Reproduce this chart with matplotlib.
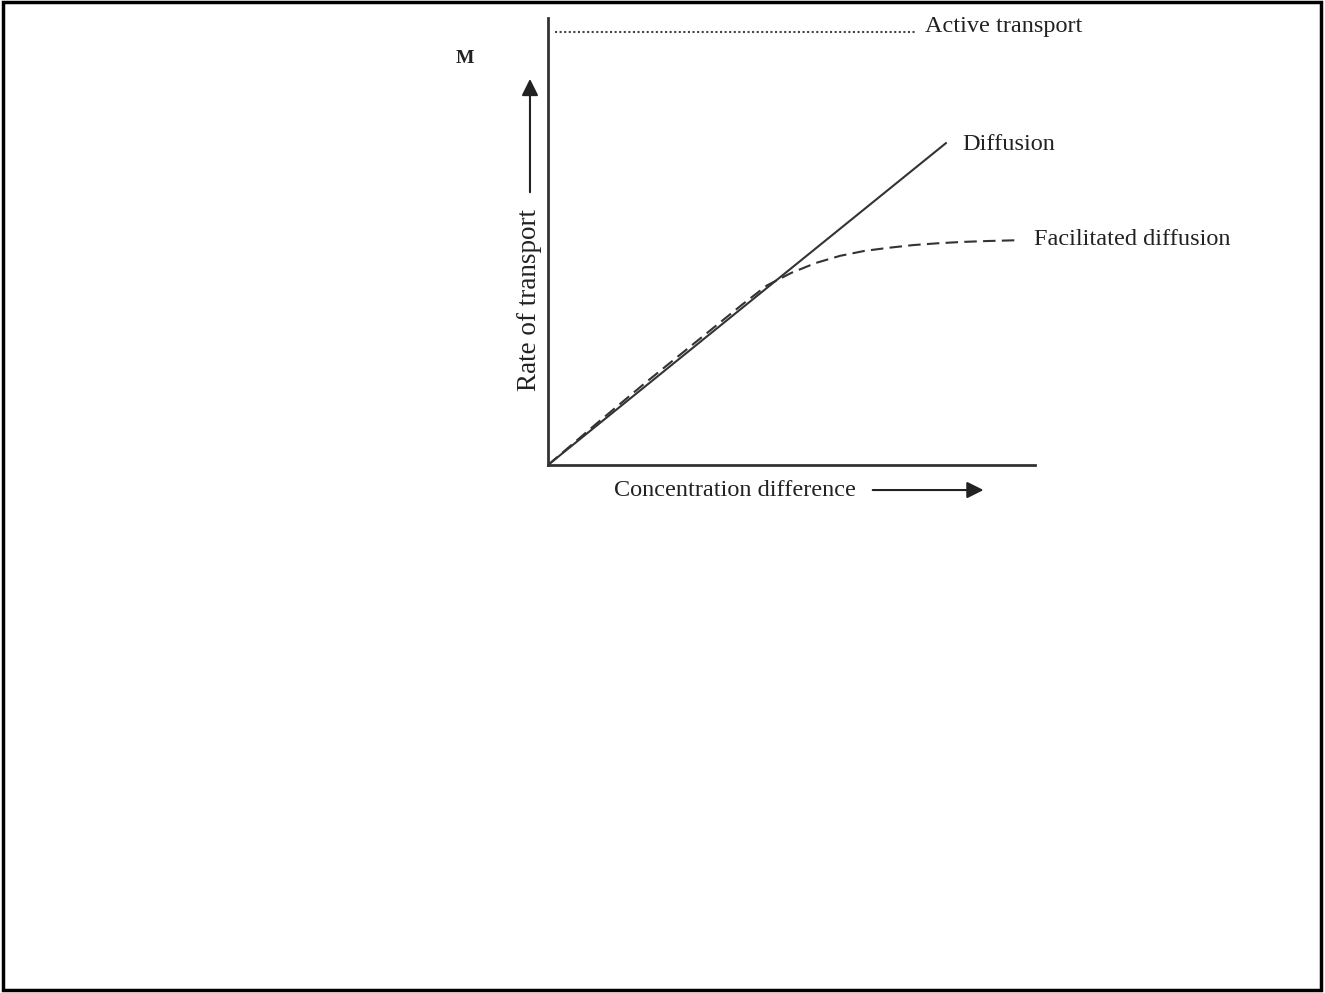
import matplotlib.pyplot as plt
from matplotlib.patches import Rectangle

# data (arbitrary units)
diff_x = [0, 8.17]
diff_y = [0, 7.20]
fac_x = [0, 1, 2, 3, 4, 4.5, 5, 5.5, 6, 6.5, 7, 7.5, 8, 8.5, 9, 9.7]
fac_y = [0, 0.93, 1.84, 2.72, 3.6, 4.02, 4.3, 4.52, 4.68, 4.79, 4.86, 4.92, 4.96, 4.99, 5.01, 5.03]
active_x = [0.14, 7.54]
active_y = [9.69, 9.69]

plt.rcParams['font.family'] = ['Liberation Serif', 'DejaVu Serif']

fig = plt.figure(figsize=(13.25, 9.93), dpi=100)
ax = fig.add_axes([548 / 1325, 1 - 465 / 993, 487 / 1325, 447 / 993])
ax.set_xlim(0, 10)
ax.set_ylim(0, 10)

ax.plot(diff_x, diff_y, color='#333333', linewidth=1.5)
ax.plot(fac_x, fac_y, color='#333333', linewidth=1.5, linestyle=(0, (6, 3)))
ax.plot(active_x, active_y, color='#444444', linewidth=1.5, linestyle=(0, (1, 1.2)))

for s in ['top', 'right']:
    ax.spines[s].set_visible(False)
for s in ['left', 'bottom']:
    ax.spines[s].set_linewidth(2)
    ax.spines[s].set_color('#333333')
ax.set_xticks([])
ax.set_yticks([])

txt = dict(fontsize=17.5, color='#222222', va='center')
ax.text(7.74, 9.8, 'Active transport', ha='left', clip_on=False, **txt)
ax.text(8.5, 7.16, 'Diffusion', ha='left', clip_on=False, **txt)
ax.text(9.98, 5.05, 'Facilitated diffusion', ha='left', clip_on=False, **txt)
ax.text(-1.7, 9.1, 'M', ha='center', fontweight='bold', clip_on=False,
        fontsize=14, color='#222222', va='center')

# axis captions with arrows
ax.text(-0.37, 3.7, 'Rate of transport', rotation=90, ha='center', clip_on=False,
        fontsize=19.5, color='#222222', va='center')
ax.annotate('', xy=(-0.37, 8.7), xytext=(-0.37, 6.04), annotation_clip=False,
            arrowprops=dict(arrowstyle='-|>', color='#222222', lw=1.5, mutation_scale=25))
ax.text(3.84, -0.56, 'Concentration difference', ha='center', clip_on=False, **txt)
ax.annotate('', xy=(9.0, -0.56), xytext=(6.61, -0.56), annotation_clip=False,
            arrowprops=dict(arrowstyle='-|>', color='#222222', lw=1.5, mutation_scale=25))

# outer frame
fig.patches.append(Rectangle((0.002, 0.003), 0.995, 0.995, transform=fig.transFigure,
                             fill=False, edgecolor='black', linewidth=2.5))

fig.savefig('out.png', dpi=100)
